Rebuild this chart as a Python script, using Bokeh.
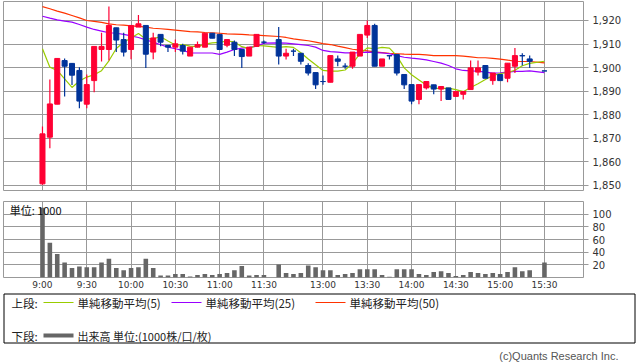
from bokeh.plotting import figure
from bokeh.layouts import column
from bokeh.models import Range1d, FixedTicker, Grid, NumeralTickFormatter, ColumnDataSource, Label
from bokeh.embed import file_html
from bokeh.resources import INLINE
from bokeh.core.properties import value


def session(h0, m0, h1, m1):
    out = []
    t = h0 * 60 + m0
    while t <= h1 * 60 + m1:
        out.append(f"{t // 60}:{t % 60:02d}")
        t += 5
    return out


# 5-minute slots: morning session, a break slot, afternoon session
times = session(9, 0, 11, 30) + [""] + session(12, 30, 15, 30)

open_ = [1850.7, 1870.5, 1884.5, 1903.0, 1901.8, 1898.8, 1884.5, 1894.5, 1907.7, 1907.7,
         1916.9, 1911.9, 1907.7, 1917.2, 1917.9, 1906.6, 1914.1, 1909.4, 1908.7, 1909.4,
         1904.9, 1908.7, 1908.7, 1914.6, 1914.1, 1909.5, 1910.8, 1907.7, 1904.9, 1909.0,
         1910.8, None, 1911.9, 1904.9, 1907.0, 1906.1, 1900.9, 1897.9, 1894.1, 1893.8,
         1903.7, 1900.6, 1900.6, 1904.9, 1913.8, 1917.9, 1900.6, 1905.1, 1905.6, 1897.1,
         1892.8, 1886.5, 1891.4, 1892.7, 1890.9, 1891.4, 1887.8, 1888.7, 1890.7, 1898.1,
         1900.9, 1894.5, 1897.1, 1895.5, 1900.6, 1905.1, 1903.7, None, 1898.6]
high = [1875.0, 1895.0, 1904.0, 1903.9, 1902.0, 1900.2, 1897.1, 1909.0, 1914.8, 1925.9,
        1916.9, 1914.8, 1918.0, 1922.3, 1918.0, 1914.8, 1914.1, 1909.4, 1911.9, 1910.1,
        1908.7, 1911.1, 1914.6, 1914.6, 1914.1, 1911.9, 1911.5, 1907.7, 1908.7, 1914.1,
        1911.5, None, 1917.2, 1908.0, 1908.0, 1906.1, 1901.9, 1897.9, 1896.7, 1905.1,
        1905.1, 1901.9, 1906.6, 1914.1, 1920.0, 1918.6, 1903.7, 1905.1, 1905.6, 1897.1,
        1892.8, 1892.8, 1894.1, 1892.7, 1892.0, 1891.4, 1889.9, 1889.9, 1903.0, 1903.0,
        1900.9, 1897.7, 1897.1, 1901.9, 1908.3, 1906.1, 1905.1, None, 1898.6]
low = [1850.3, 1865.8, 1884.5, 1887.8, 1892.6, 1882.8, 1882.8, 1889.6, 1902.6, 1903.0,
       1906.6, 1904.7, 1903.6, 1917.2, 1899.8, 1903.6, 1909.1, 1906.6, 1906.6, 1905.6,
       1904.9, 1908.7, 1908.7, 1912.5, 1907.7, 1908.7, 1904.9, 1899.8, 1904.9, 1909.0,
       1910.0, None, 1901.3, 1903.5, 1904.9, 1901.3, 1896.7, 1890.9, 1892.7, 1893.8,
       1900.6, 1899.5, 1899.5, 1904.9, 1912.6, 1900.6, 1900.6, 1903.5, 1896.7, 1890.9,
       1884.5, 1884.5, 1890.7, 1888.7, 1885.8, 1886.5, 1887.8, 1886.5, 1890.7, 1896.7,
       1895.5, 1892.7, 1894.5, 1893.8, 1897.7, 1900.9, 1899.8, None, 1898.6]
close = [1871.9, 1884.6, 1903.9, 1900.6, 1896.8, 1885.8, 1892.8, 1909.0, 1909.0, 1917.9,
         1911.7, 1906.6, 1917.9, 1918.6, 1905.7, 1912.6, 1910.8, 1908.7, 1910.1, 1907.0,
         1908.7, 1909.8, 1914.6, 1912.5, 1907.7, 1911.9, 1907.7, 1904.7, 1908.7, 1914.1,
         1910.8, None, 1904.9, 1906.1, 1907.0, 1902.7, 1897.7, 1892.7, 1894.1, 1905.1,
         1902.7, 1900.6, 1906.6, 1914.1, 1917.9, 1900.6, 1903.7, 1905.0, 1897.7, 1892.7,
         1885.8, 1892.8, 1894.1, 1890.9, 1892.0, 1886.5, 1889.9, 1889.9, 1899.9, 1899.9,
         1895.5, 1897.7, 1894.5, 1901.9, 1905.1, 1905.0, 1902.7, None, 1898.6]
volume = [110, 55, 37, 23.5, 15, 17.5, 16, 16, 23.5, 29.5,
          15, 11.5, 15, 16, 29.5, 15, 3, 3, 5.5, 5.5,
          1.5, 4, 5.5, 4, 5.5, 7, 11.5, 18, 3, 4,
          4, None, 20.5, 7, 5.5, 7, 19, 16, 11.5, 11.5,
          4, 5.5, 7, 13, 13, 13, 4, 1, 13, 13,
          13, 5.5, 4, 8.5, 10, 7, 2.5, 4, 8.5, 7,
          5.5, 7, 5.5, 8.5, 16, 10, 11.5, None, 23.5]
ma5 = [1908.0, 1900.2, 1898.8, 1895.2, 1891.6, 1894.3, 1896.0, 1897.0, 1898.7, 1902.9,
       1908.1, 1910.8, 1912.6, 1914.5, 1912.1, 1912.3, 1913.1, 1911.3, 1909.6, 1909.8,
       1909.1, 1908.9, 1910.0, 1910.5, 1910.7, 1911.3, 1910.9, 1908.9, 1908.1, 1909.4,
       1909.2, None, 1908.6, 1908.9, 1908.6, 1906.3, 1903.7, 1901.2, 1898.8, 1898.5,
       1898.5, 1899.0, 1901.8, 1905.8, 1908.4, 1908.0, 1908.6, 1908.3, 1905.0, 1899.9,
       1897.0, 1894.8, 1892.6, 1891.3, 1891.1, 1891.3, 1890.7, 1889.8, 1891.6, 1893.2,
       1895.0, 1896.6, 1897.5, 1897.9, 1898.9, 1900.8, 1901.8, None, 1902.7]
ma25 = [1921.8, 1921.0, 1920.3, 1919.7, 1919.3, 1918.3, 1917.2, 1916.2, 1915.5, 1914.8,
        1914.6, 1914.1, 1913.5, 1912.8, 1911.8, 1910.8, 1909.7, 1908.7, 1908.0, 1907.3,
        1906.3, 1906.2, 1906.2, 1906.2, 1905.6, 1906.6, 1907.7, 1908.3, 1908.6, 1909.1,
        1910.4, None, 1910.5, 1910.4, 1910.1, 1909.8, 1909.4, 1908.7, 1907.3, 1906.8,
        1906.6, 1906.3, 1906.3, 1906.4, 1906.6, 1906.4, 1906.3, 1905.9, 1905.1, 1904.4,
        1904.0, 1903.7, 1903.3, 1902.6, 1901.9, 1900.9, 1899.5, 1898.8, 1898.6, 1898.5,
        1898.1, 1897.7, 1897.8, 1898.1, 1898.4, 1898.4, 1898.6, None, 1897.9]
ma50 = [1925.9, 1925.0, 1924.0, 1923.1, 1922.1, 1921.1, 1920.0, 1919.6, 1919.2, 1918.6,
        1918.2, 1918.0, 1917.7, 1917.5, 1917.2, 1916.7, 1916.5, 1916.2, 1915.9, 1915.6,
        1915.3, 1915.2, 1914.9, 1914.8, 1914.6, 1914.3, 1914.2, 1914.1, 1913.9, 1913.8,
        1913.6, None, 1913.2, 1912.8, 1912.2, 1911.8, 1911.4, 1910.8, 1910.2, 1909.8,
        1909.1, 1908.5, 1907.8, 1907.4, 1907.1, 1906.7, 1906.4, 1906.1, 1905.9, 1905.7,
        1905.6, 1905.6, 1905.4, 1905.1, 1905.1, 1905.1, 1905.1, 1904.9, 1904.6, 1904.2,
        1904.2, 1903.9, 1903.6, 1903.2, 1902.7, 1902.6, 1902.6, None, 1902.0]

price_ticks = [1850, 1860, 1870, 1880, 1890, 1900, 1910, 1920]
volume_ticks = [20, 40, 60, 80, 100]
time_ticks = ["9:00", "9:30", "10:00", "10:30", "11:00", "11:30",
              "13:00", "13:30", "14:00", "14:30", "15:00", "15:30"]

UP = "#FF0033"
DOWN = "#003399"
GRID = "#999999"
C5, C25, C50 = "#99CC00", "#9900FF", "#FF3300"
VOLC = "#666666"

valid = [i for i in range(len(times)) if close[i] is not None]
tick_pos = [times.index(t) for t in time_ticks]

candles = ColumnDataSource(dict(
    x=valid,
    high=[high[i] for i in valid],
    low=[low[i] for i in valid],
    top=[max(open_[i], close[i]) for i in valid],
    bottom=[min(open_[i], close[i]) for i in valid],
    color=[UP if close[i] > open_[i] else DOWN for i in valid],
    vol=[volume[i] for i in valid],
))

xr = Range1d(-5.28, 73.29)

# ---------------- price panel ----------------
p = figure(width=638, height=192, x_range=xr, y_range=Range1d(1847.87, 1928.06),
           output_backend="svg", toolbar_location=None,
           x_axis_location=None, y_axis_location="right",
           min_border_left=3, min_border_right=55, min_border_top=1, min_border_bottom=2)
p.background_fill_color = "white"
p.border_fill_color = "white"
p.outline_line_color = GRID
p.xgrid.visible = False
p.ygrid.visible = False
p.add_layout(Grid(dimension=0, ticker=FixedTicker(ticks=tick_pos), grid_line_color=GRID))
p.add_layout(Grid(dimension=1, ticker=FixedTicker(ticks=price_ticks), grid_line_color=GRID))
p.yaxis.ticker = FixedTicker(ticks=price_ticks)
p.yaxis.formatter = NumeralTickFormatter(format="0,0")
p.yaxis.axis_line_color = None
p.yaxis.major_tick_line_color = GRID
p.yaxis.major_tick_out = 5
p.yaxis.major_tick_in = 0
p.yaxis.minor_tick_line_color = None
p.yaxis.major_label_standoff = 4
p.yaxis.major_label_text_font = "DejaVu Sans"
p.yaxis.major_label_text_font_size = "10px"
p.yaxis.major_label_text_color = "#333333"

for ma, col in ((ma50, C50), (ma25, C25), (ma5, C5)):
    p.line([i for i in valid], [ma[i] for i in valid], line_color=col, line_width=1.2)

p.segment(x0="x", y0="low", x1="x", y1="high", line_color="color", line_width=1.2, source=candles)
p.vbar(x="x", width=0.68, top="top", bottom="bottom", fill_color="color",
       line_color="color", line_width=1, source=candles)

# ---------------- volume panel ----------------
v = figure(width=638, height=100, x_range=xr, y_range=Range1d(0, 120),
           output_backend="svg", toolbar_location=None, y_axis_location="right",
           min_border_left=3, min_border_right=55, min_border_top=9, min_border_bottom=11)
v.background_fill_color = "white"
v.border_fill_color = "white"
v.outline_line_color = GRID
v.xgrid.visible = False
v.ygrid.visible = False
v.add_layout(Grid(dimension=0, ticker=FixedTicker(ticks=tick_pos), grid_line_color=GRID))
v.add_layout(Grid(dimension=1, ticker=FixedTicker(ticks=volume_ticks), grid_line_color=GRID))
v.yaxis.ticker = FixedTicker(ticks=volume_ticks)
v.yaxis.axis_line_color = None
v.yaxis.major_tick_line_color = GRID
v.yaxis.major_tick_out = 5
v.yaxis.major_tick_in = 0
v.yaxis.minor_tick_line_color = None
v.yaxis.major_label_standoff = 4
v.yaxis.major_label_text_font = "DejaVu Sans"
v.yaxis.major_label_text_font_size = "10px"
v.yaxis.major_label_text_color = "#333333"
v.xaxis.ticker = FixedTicker(ticks=tick_pos)
v.xaxis.major_label_overrides = {pos: lab for pos, lab in zip(tick_pos, time_ticks)}
v.xaxis.axis_line_color = None
v.xaxis.major_tick_line_color = None
v.xaxis.minor_tick_line_color = None
v.xaxis.major_tick_out = 0
v.xaxis.major_tick_in = 0
v.xaxis.major_label_standoff = 2
v.xaxis.major_label_text_font = "DejaVu Sans"
v.xaxis.major_label_text_font_size = "9px"
v.xaxis.major_label_text_color = "#333333"

v.vbar(x="x", width=0.62, top="vol", bottom=0, fill_color=VOLC, line_color=None, source=candles)
v.add_layout(Label(x=-4.45, y=107, text="単位: 1000", text_font="Noto Sans CJK JP",
                   text_font_size="11px", text_baseline="middle", text_color="#111111"))

# ---------------- legend / credit ----------------
lg = figure(width=638, height=70, x_range=Range1d(0, 638), y_range=Range1d(70, 0),
            output_backend="svg", toolbar_location=None,
            x_axis_location=None, y_axis_location=None,
            min_border_left=0, min_border_right=0, min_border_top=0, min_border_bottom=0)
lg.xgrid.visible = False
lg.ygrid.visible = False
lg.outline_line_color = None
lg.background_fill_color = "white"
lg.border_fill_color = "white"
lg.quad(left=[3.5], right=[634.5], top=[1.5], bottom=[50.5], fill_color=None, line_color="black", line_width=1)

legend_names = ["単純移動平均(5)", "単純移動平均(25)", "単純移動平均(50)"]
legend_cols = [C5, C25, C50]
lx = [43, 171, 315]
lg.segment(x0=lx, y0=[10, 10, 10], x1=[v_ + 30 for v_ in lx], y1=[10, 10, 10],
           line_color=legend_cols, line_width=1.2)
lg.text(x=[v_ + 34 for v_ in lx], y=[10, 10, 10], text=legend_names,
        text_font=value("Noto Sans CJK JP"), text_font_size="11.5px", text_baseline="middle",
        text_color="#222222")
lg.text(x=[11, 11], y=[10, 43], text=["上段:", "下段:"],
        text_font=value("Noto Sans CJK JP"), text_font_size="11.5px", text_baseline="middle",
        text_color="#222222")
lg.segment(x0=[43], y0=[43], x1=[73], y1=[43], line_color=VOLC, line_width=4)
lg.text(x=[77], y=[43], text=["出来高 単位:(1000株/口/枚)"],
        text_font=value("Noto Sans CJK JP"), text_font_size="11px", text_baseline="middle",
        text_color="#222222")
lg.text(x=[618], y=[63], text=["(c)Quants Research Inc."], text_align="right",
        text_font=value("Liberation Sans"), text_font_size="11px", text_baseline="middle",
        text_color="#555555")

layout = column(column(p, v, spacing=0), lg, spacing=0)

with open("out.html", "w") as f:
    f.write(file_html(layout, INLINE))
